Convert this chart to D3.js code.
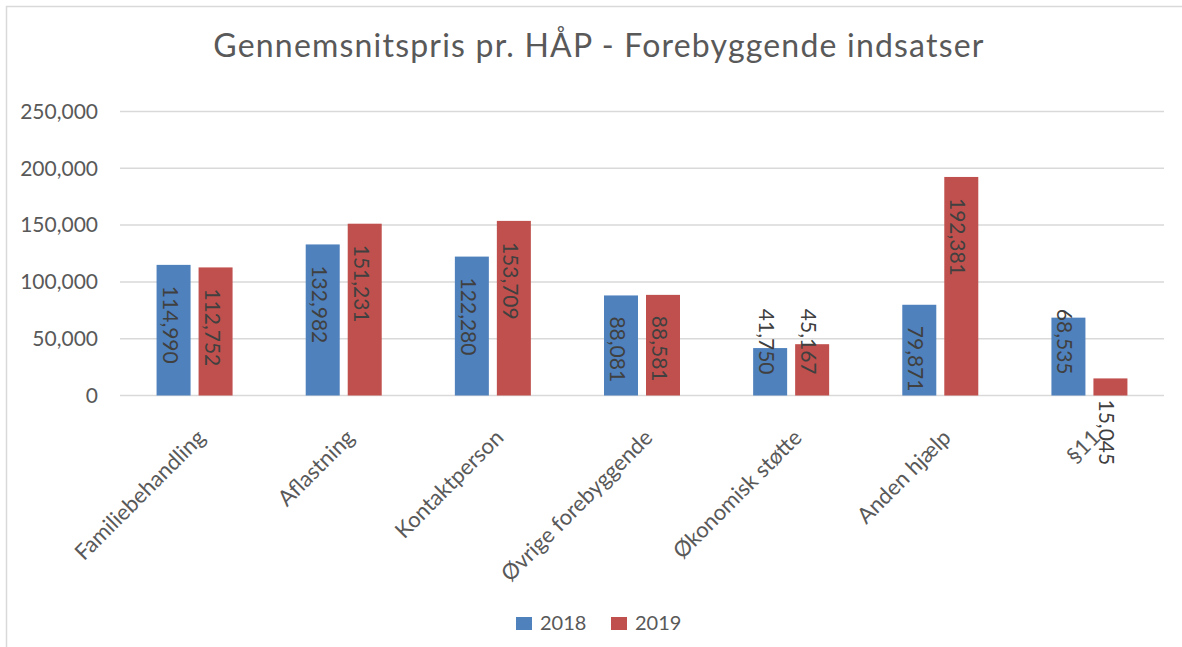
<!DOCTYPE html>
<html><head><meta charset="utf-8">
<script src="https://cdn.jsdelivr.net/npm/d3@7/dist/d3.min.js"></script>
<style>html,body{margin:0;padding:0;background:#fff;} text{font-family:Lato, "Open Sans", sans-serif;}</style>
</head><body><svg id="c" width="1182" height="647"></svg>
<script>
const title = "Gennemsnitspris pr. HÅP - Forebyggende indsatser";
const categories = ["Familiebehandling","Aflastning","Kontaktperson","Øvrige forebyggende","Økonomisk støtte","Anden hjælp","§11"];
const seriesNames = ["2018","2019"];
const values2018 = [114990,132982,122280,88081,41750,79871,68535];
const values2019 = [112752,151231,153709,88581,45167,192381,15045];
const yTicks = [0,50000,100000,150000,200000,250000];
const colors = ["#4F81BD","#C0504D"];

const svg = d3.select("#c");
const W = 1182, H = 647;
svg.append("rect").attr("width",W).attr("height",H).attr("fill","#fff");
// chart border
svg.append("path").attr("d","M6.5,647V6.5H1182").attr("fill","none").attr("stroke","#D9D9D9").attr("stroke-width",1.5);

svg.append("text").attr("x",599).attr("y",57).attr("text-anchor","middle")
  .attr("font-size",32).attr("letter-spacing",1.2).attr("fill","#595959").text(title);

const x = d3.scaleBand().domain(categories).range([120,1164]).padding(0);
const y = d3.scaleLinear().domain([0,250000]).range([395.5,111.5]);
const fmt = d3.format(",");

const grid = svg.append("g");
yTicks.forEach(t=>{
  grid.append("line").attr("x1",120).attr("x2",1164).attr("y1",y(t)).attr("y2",y(t))
    .attr("stroke","#D9D9D9").attr("stroke-width",1.5);
});
const yAxis = d3.axisLeft(y).tickValues(yTicks).tickFormat(fmt).tickSize(0).tickPadding(0);
const ga = svg.append("g").attr("transform","translate(98,0)").call(yAxis);
ga.select(".domain").remove();
ga.selectAll("text").attr("font-size",21).attr("fill","#595959").attr("font-family","Lato");

const series = [values2018, values2019];
const bw = x.bandwidth()*34/149.14, gap = x.bandwidth()*8/149.14;

series.forEach((vals,si)=>{
  const g = svg.append("g");
  categories.forEach((c,i)=>{
    const cx0 = x(c) + x.bandwidth()/2 - (2*bw+gap)/2;
    const bx = cx0 + (si===0 ? 0 : bw+gap);
    g.append("rect").attr("x",bx).attr("y",y(vals[i])).attr("width",bw)
      .attr("height",y(0)-y(vals[i])).attr("fill",colors[si]);
  });
});

// data labels (rotated 90deg, inside end)
series.forEach((vals,si)=>{
  categories.forEach((c,i)=>{
    const cx0 = x(c) + x.bandwidth()/2 - (2*bw+gap)/2;
    const bcx = cx0 + (si===0 ? 0 : bw+gap) + bw/2;
    const t = svg.append("text").attr("font-size",21).attr("fill","#404040").text(fmt(vals[i]));
    const len = t.node().getComputedTextLength();
    const barH = y(0)-y(vals[i]);
    let top;
    if (barH < 30) top = y(0) + 4;
    else if (y(vals[i]) + 21 + len > y(0) - 4) top = y(0) - 21 - len;
    else top = y(vals[i]) + 21;
    t.attr("transform",`translate(${bcx-11},${top}) rotate(90)`);
  });
});

// category labels
categories.forEach(c=>{
  const cx = x(c)+x.bandwidth()/2;
  svg.append("text").attr("font-size",22).attr("fill","#595959").attr("text-anchor","end")
    .attr("transform",`translate(${cx+12},${439}) rotate(-45)`).text(c);
});

// legend
const leg = svg.append("g");
const legX = [516, 611];
seriesNames.forEach((n,i)=>{
  leg.append("rect").attr("x",legX[i]).attr("y",617).attr("width",16).attr("height",13).attr("fill",colors[i]);
  leg.append("text").attr("x",legX[i]+24).attr("y",630).attr("font-size",20).attr("fill","#595959").text(n);
});
</script></body></html>
